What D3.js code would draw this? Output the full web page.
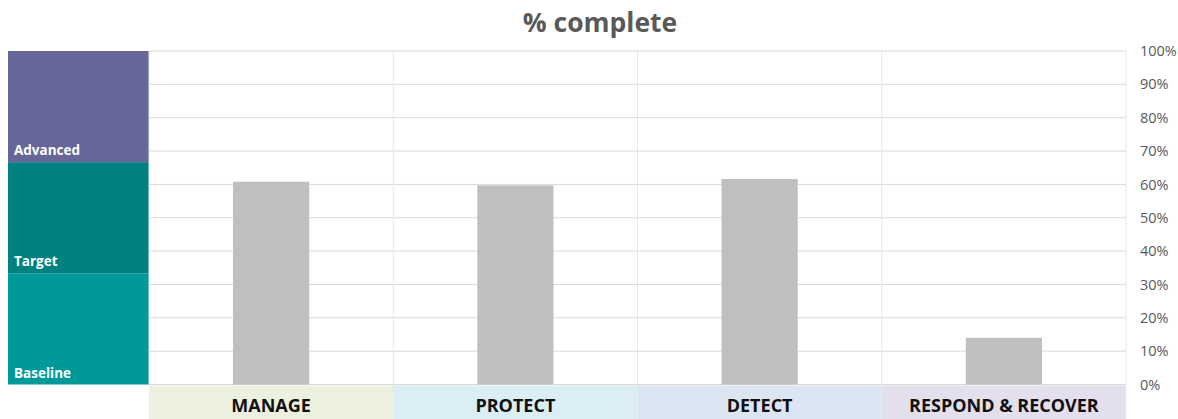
<!DOCTYPE html>
<html><head><meta charset="utf-8">
<script src="https://cdn.jsdelivr.net/npm/d3@7"></script>
<style>body{margin:0;background:#fff;} svg{display:block;}</style>
</head><body>
<svg id="chart" width="1178" height="419"></svg>
<script>
const categories = ["MANAGE", "PROTECT", "DETECT", "RESPOND & RECOVER"];
const values = [0.608, 0.597, 0.616, 0.140];
const categoryColors = ["#EBF1DE", "#DAEEF3", "#DCE6F2", "#E4DFEC"];
const levels = ["Baseline", "Target", "Advanced"];
const levelRanges = [[0, 1/3], [1/3, 2/3], [2/3, 1]];
const levelColors = ["#009999", "#008080", "#666699"];
const yTicks = [0, 0.1, 0.2, 0.3, 0.4, 0.5, 0.6, 0.7, 0.8, 0.9, 1.0];

(function () {
const svg = d3.select("#chart");
const pL = 149, pR = 1126, pT = 51, pB = 384.5;
const x = d3.scaleBand().domain(categories).range([pL, pR]).padding(0);
const y = d3.scaleLinear().domain([0, 1]).range([pB, pT]);

// title
svg.append("text").attr("x", 600).attr("y", 32).attr("text-anchor", "middle")
  .attr("font-family", "'Open Sans', sans-serif").attr("font-weight", "bold")
  .attr("font-size", 26.5).attr("fill", "#595959").text("% complete");

// level bands at left
const lb = svg.append("g");
lb.selectAll("rect").data(levels).join("rect")
  .attr("x", 8).attr("width", pL - 8)
  .attr("y", (d, i) => y(levelRanges[i][1]))
  .attr("height", (d, i) => y(levelRanges[i][0]) - y(levelRanges[i][1]))
  .attr("fill", (d, i) => levelColors[i]);
lb.selectAll("text").data(levels).join("text")
  .attr("x", 14).attr("y", (d, i) => y(levelRanges[i][0]) - 7)
  .attr("font-family", "'Open Sans', sans-serif").attr("font-weight", "bold")
  .attr("font-size", 13.5).attr("fill", "#fff").text(d => d);

// horizontal gridlines
svg.append("g").selectAll("line").data(yTicks).join("line")
  .attr("x1", pL).attr("x2", pR)
  .attr("y1", d => y(d)).attr("y2", d => y(d))
  .attr("stroke", "#d9d9d9").attr("stroke-width", 1);

// category label bands
svg.append("g").selectAll("rect").data(categories).join("rect")
  .attr("x", d => x(d)).attr("width", x.bandwidth())
  .attr("y", pB + 1).attr("height", 419 - pB - 1)
  .attr("fill", (d, i) => categoryColors[i]);

// vertical separators
const seps = categories.map(d => x(d)).concat([pR]);
svg.append("g").selectAll("line").data(seps).join("line")
  .attr("x1", d => d).attr("x2", d => d)
  .attr("y1", pT).attr("y2", (d, i) => (i === 0 || i === seps.length - 1) ? pB : pB + 8)
  .attr("stroke", "#e6e6e6").attr("stroke-width", 1);

// bars
const bw = x.bandwidth() * 0.312;
svg.append("g").selectAll("rect").data(values).join("rect")
  .attr("x", (d, i) => x(categories[i]) + x.bandwidth() / 2 - bw / 2)
  .attr("width", bw)
  .attr("y", d => y(d)).attr("height", d => y(0) - y(d))
  .attr("fill", "#BFBFBF");

// category labels
svg.append("g").selectAll("text").data(categories).join("text")
  .attr("x", d => x(d) + x.bandwidth() / 2).attr("y", 412)
  .attr("text-anchor", "middle")
  .attr("font-family", "'Open Sans', sans-serif").attr("font-weight", "bold")
  .attr("font-size", 18).attr("fill", "#111").text(d => d);

// right axis
const axis = d3.axisRight(y).tickValues(yTicks).tickFormat(d3.format(".0%")).tickSize(0).tickPadding(14);
const ag = svg.append("g").attr("transform", `translate(${pR},0)`).call(axis);
ag.select(".domain").remove();
ag.selectAll("text").attr("font-family", "'Open Sans', sans-serif").attr("font-size", 14.5).attr("fill", "#595959");
})();
</script>
</body></html>
